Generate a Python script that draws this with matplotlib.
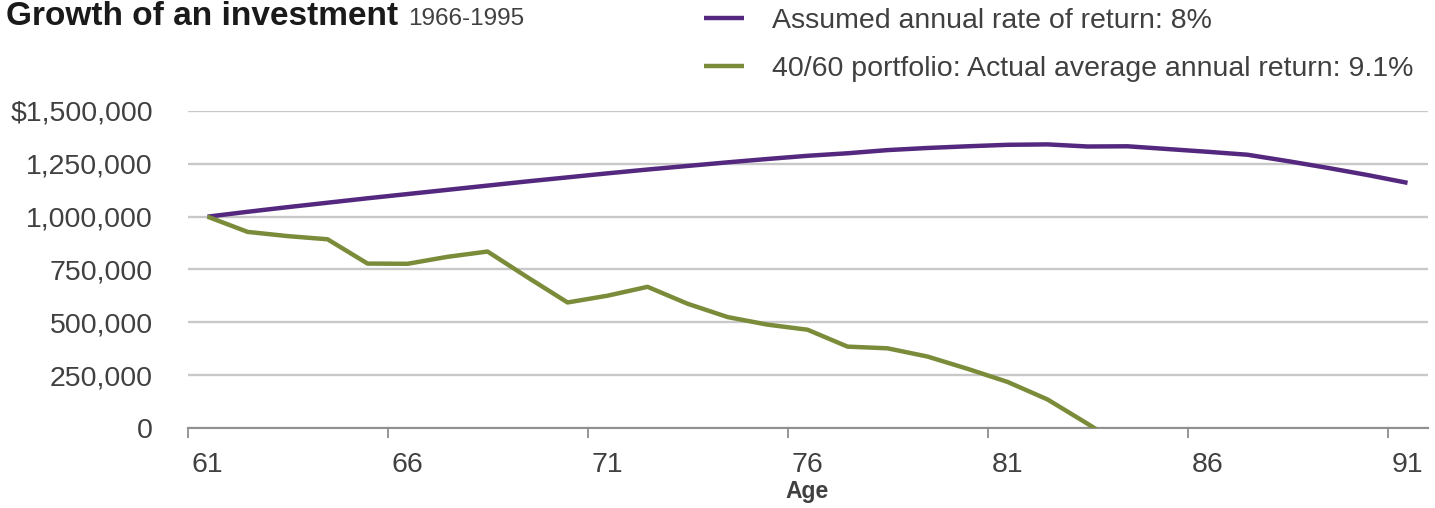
import matplotlib
matplotlib.use("Agg")
import matplotlib.pyplot as plt
from matplotlib.ticker import FixedLocator

plt.rcParams['font.family'] = ['Liberation Sans', 'DejaVu Sans']

ages = list(range(61, 92))
assumed = [1000000, 1023000, 1045000, 1066000, 1087000, 1107000, 1127000, 1147000,
           1167000, 1186000, 1205000, 1223000, 1240000, 1257000, 1273000, 1288000,
           1300000, 1315000, 1325000, 1333000, 1340000, 1342000, 1332000, 1333000,
           1320000, 1307000, 1293000, 1263000, 1231000, 1197000, 1160000]
green_ages = list(range(61, 85))
actual = [1000000, 928000, 908000, 893000, 778000, 777000, 810000, 835000,
          713000, 594000, 626000, 668000, 588000, 525000, 489000, 465000,
          385000, 377000, 338000, 280000, 218000, 135000, 20000, -100000]

label_assumed = "Assumed annual rate of return: 8%"
label_actual = "40/60 portfolio: Actual average annual return: 9.1%"
title_main = "Growth of an investment"
title_sub = "1966-1995"
xlabel = "Age"

y_ticks = [0, 250000, 500000, 750000, 1000000, 1250000, 1500000]
y_labels = ["0", "250,000", "500,000", "750,000", "1,000,000", "1,250,000", "$1,500,000"]
x_label_ticks = [61, 66, 71, 76, 81, 86, 91]

purple = '#55287f'
green = '#7a8c3a'
text_col = '#404040'

fig = plt.figure(figsize=(14.35, 5.08), dpi=100)
ax = fig.add_axes([0.1307, 0.1575, 0.8641, 0.624])

la, = ax.plot(ages, assumed, color=purple, lw=3.2, solid_capstyle='butt', zorder=3)
lg, = ax.plot(green_ages, actual, color=green, lw=3.2, solid_capstyle='butt', zorder=3)

ax.set_xlim(ages[0] - 0.5, ages[-1] + 0.5)
ax.set_ylim(0, 1500000)

ax.set_yticks(y_ticks)
ax.set_yticklabels(y_labels)
ax.tick_params(axis='y', length=0, pad=25, labelsize=20.5, labelcolor=text_col)
ax.yaxis.grid(True, color='#c8c8c8', lw=1.7)
ax.set_axisbelow(True)

major = [a - 0.5 for a in x_label_ticks]
ax.xaxis.set_major_locator(FixedLocator(major))
ax.xaxis.set_major_formatter(plt.NullFormatter())
ax.set_xticks(x_label_ticks, minor=True)
ax.set_xticklabels([str(a) for a in x_label_ticks], minor=True)
ax.tick_params(axis='x', which='major', length=7, width=1.3, color='#909090', direction='out')
ax.tick_params(axis='x', which='minor', length=0, pad=17, labelsize=20.5, labelcolor=text_col)

for s in ['top', 'right', 'left']:
    ax.spines[s].set_visible(False)
ax.spines['bottom'].set_color('#909090')
ax.spines['bottom'].set_linewidth(1.5)

ax.set_xlabel(xlabel, fontsize=16.5, fontweight='bold', color='#404040', labelpad=2)

fig.text(0.004, 1 - 25 / 508, title_main, fontsize=24, fontweight='bold', color='#1a1a1a',
         ha='left', va='baseline')
fig.text(408 / 1435, 1 - 25 / 508, title_sub, fontsize=17.5, color='#404040',
         ha='left', va='baseline')

fig.legend([la, lg], [label_assumed, label_actual], loc='upper left',
           bbox_to_anchor=(703 / 1435, 1 - 7 / 508), frameon=False, fontsize=20.5,
           handlelength=1.4, handletextpad=0.98, labelspacing=0.76,
           borderaxespad=0.0, borderpad=0.05, labelcolor=text_col)

fig.savefig('out.png', dpi=100)
